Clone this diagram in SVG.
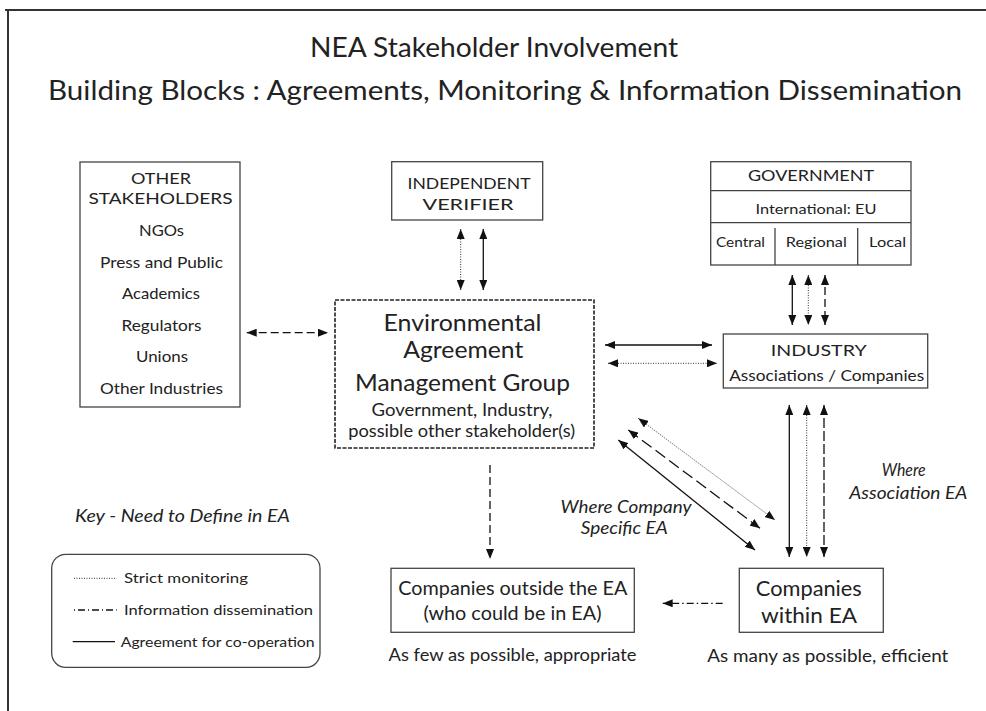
<svg xmlns="http://www.w3.org/2000/svg" width="986" height="711" viewBox="0 0 986 711">
<defs>
<style>
text{font-family:Lato,"Open Sans","Liberation Sans",sans-serif;fill:#222;text-anchor:middle}
.box{fill:#fff;stroke:#444;stroke-width:1.3}
.it{font-style:italic}
.ln{fill:none;stroke:#111;stroke-width:1.3}
.sol{}
.dot{stroke-dasharray:1 1.5;stroke-width:1;stroke:#333}
.dsh{stroke-dasharray:8 4}
.dd{stroke-dasharray:7 3 1.5 3}
</style>
<marker id="ah" viewBox="0 0 10 8" refX="10" refY="4" markerWidth="10" markerHeight="8" markerUnits="userSpaceOnUse" orient="auto-start-reverse">
<path d="M0,0 L10,4 L0,8 Z" fill="#111"/>
</marker>
</defs>
<rect width="986" height="711" fill="#fff"/>
<g id="frame">
<line x1="5" y1="10" x2="986" y2="10" stroke="#333" stroke-width="2"/>
<line x1="8" y1="10" x2="8" y2="711" stroke="#333" stroke-width="2"/>
</g>
<g id="title">
<text x="494" y="57" font-size="26" textLength="368" lengthAdjust="spacingAndGlyphs">NEA Stakeholder Involvement</text>
<text x="505" y="100" font-size="26" textLength="914" lengthAdjust="spacingAndGlyphs">Building Blocks : Agreements, Monitoring &amp; Information Dissemination</text>
</g>
<g id="other-stakeholders">
<rect class="box" x="80" y="162" width="160" height="245"/>
<text x="161" y="183.5" font-size="15" textLength="60" lengthAdjust="spacingAndGlyphs">OTHER</text>
<text x="160.5" y="203.5" font-size="15" textLength="144" lengthAdjust="spacingAndGlyphs">STAKEHOLDERS</text>
<text x="161.5" y="235.5" font-size="15" textLength="45" lengthAdjust="spacingAndGlyphs">NGOs</text>
<text x="161.5" y="267.5" font-size="15" textLength="123" lengthAdjust="spacingAndGlyphs">Press and Public</text>
<text x="161" y="298.5" font-size="15" textLength="78" lengthAdjust="spacingAndGlyphs">Academics</text>
<text x="161.5" y="330.5" font-size="15" textLength="80" lengthAdjust="spacingAndGlyphs">Regulators</text>
<text x="162" y="362" font-size="15" textLength="52" lengthAdjust="spacingAndGlyphs">Unions</text>
<text x="161.5" y="393.5" font-size="15" textLength="123" lengthAdjust="spacingAndGlyphs">Other Industries</text>
</g>
<g id="independent-verifier">
<rect class="box" x="391.7" y="161.7" width="151" height="58.3"/>
<text x="469" y="188.5" font-size="15" textLength="123" lengthAdjust="spacingAndGlyphs">INDEPENDENT</text>
<text x="468" y="209.5" font-size="15" textLength="91" lengthAdjust="spacingAndGlyphs">VERIFIER</text>
</g>
<g id="government">
<rect class="box" x="710.7" y="161.7" width="200.3" height="103.3"/>
<line x1="710.7" y1="190.7" x2="911" y2="190.7" stroke="#444" stroke-width="1.3"/>
<line x1="710.7" y1="222.7" x2="911" y2="222.7" stroke="#444" stroke-width="1.3"/>
<line x1="775" y1="228" x2="775" y2="265" stroke="#444" stroke-width="1.3"/>
<line x1="857.7" y1="228" x2="857.7" y2="265" stroke="#444" stroke-width="1.3"/>
<text x="811" y="181" font-size="15" textLength="126" lengthAdjust="spacingAndGlyphs">GOVERNMENT</text>
<text x="816" y="213.5" font-size="14" textLength="121" lengthAdjust="spacingAndGlyphs">International: EU</text>
<text x="740.5" y="247" font-size="14" textLength="49" lengthAdjust="spacingAndGlyphs">Central</text>
<text x="816.3" y="247" font-size="14" textLength="61" lengthAdjust="spacingAndGlyphs">Regional</text>
<text x="887.6" y="247" font-size="14" textLength="37" lengthAdjust="spacingAndGlyphs">Local</text>
</g>
<g id="eamg">
<rect x="335" y="300" width="259" height="148" fill="#fff" stroke="#222" stroke-width="1.6" stroke-dasharray="4 1.5"/>
<text x="462.5" y="331" font-size="24" textLength="158" lengthAdjust="spacingAndGlyphs">Environmental</text>
<text x="463.3" y="358" font-size="24" textLength="120" lengthAdjust="spacingAndGlyphs">Agreement</text>
<text x="462.5" y="391" font-size="24" textLength="215" lengthAdjust="spacingAndGlyphs">Management Group</text>
<text x="462" y="416" font-size="18" textLength="181" lengthAdjust="spacingAndGlyphs">Government, Industry,</text>
<text x="461.7" y="437" font-size="18" textLength="227" lengthAdjust="spacingAndGlyphs">possible other stakeholder(s)</text>
</g>
<g id="industry">
<rect class="box" x="723.3" y="334" width="204.4" height="54"/>
<text x="818.7" y="355.5" font-size="15" textLength="96" lengthAdjust="spacingAndGlyphs">INDUSTRY</text>
<text x="826.7" y="380.5" font-size="15" textLength="195" lengthAdjust="spacingAndGlyphs">Associations / Companies</text>
</g>
<g id="companies-outside">
<rect class="box" x="391" y="568.3" width="243.3" height="64"/>
<text x="512.8" y="594.5" font-size="19" textLength="229" lengthAdjust="spacingAndGlyphs">Companies outside the EA</text>
<text x="512.5" y="619.5" font-size="19" textLength="178" lengthAdjust="spacingAndGlyphs">(who could be in EA)</text>
<text x="512.5" y="661" font-size="17" textLength="248" lengthAdjust="spacingAndGlyphs">As few as possible, appropriate</text>
</g>
<g id="companies-within">
<rect class="box" x="739.3" y="568.3" width="144" height="64"/>
<text x="808.8" y="596" font-size="22" textLength="106" lengthAdjust="spacingAndGlyphs">Companies</text>
<text x="809" y="622.5" font-size="22" textLength="96" lengthAdjust="spacingAndGlyphs">within EA</text>
<text x="827.8" y="662" font-size="17" textLength="241" lengthAdjust="spacingAndGlyphs">As many as possible, efficient</text>
</g>
<g id="labels">
<text class="it" x="903.7" y="476" font-size="17" textLength="44" lengthAdjust="spacingAndGlyphs">Where</text>
<text class="it" x="908.3" y="499" font-size="17" textLength="118" lengthAdjust="spacingAndGlyphs">Association EA</text>
<text class="it" x="626" y="513" font-size="17" textLength="131" lengthAdjust="spacingAndGlyphs">Where Company</text>
<text class="it" x="624.3" y="534" font-size="17" textLength="87" lengthAdjust="spacingAndGlyphs">Specific EA</text>
</g>
<g id="key">
<text class="it" x="182.5" y="522" font-size="17" textLength="215" lengthAdjust="spacingAndGlyphs">Key - Need to Define in EA</text>
<rect x="51.7" y="554.3" width="268.3" height="113" rx="14" fill="#fff" stroke="#444" stroke-width="1.3"/>
<line class="ln dot" x1="74" y1="578.3" x2="116.7" y2="578.3"/>
<line class="ln dd" x1="74" y1="610" x2="116.7" y2="610" style="stroke-dasharray:1 3 7 3"/>
<line class="ln" x1="72.7" y1="641.7" x2="115" y2="641.7"/>
<text x="124" y="583" font-size="14" text-anchor="start" style="text-anchor:start" textLength="124" lengthAdjust="spacingAndGlyphs">Strict monitoring</text>
<text x="124" y="615" font-size="14" style="text-anchor:start" textLength="189" lengthAdjust="spacingAndGlyphs">Information dissemination</text>
<text x="120.7" y="646.5" font-size="14" style="text-anchor:start" textLength="194" lengthAdjust="spacingAndGlyphs">Agreement for co-operation</text>
</g>
<g id="connectors">
<line class="ln dsh" x1="246.7" y1="332.7" x2="328" y2="332.7" marker-start="url(#ah)" marker-end="url(#ah)"/>
<line class="ln dot" x1="460.7" y1="229" x2="460.7" y2="290" marker-start="url(#ah)" marker-end="url(#ah)"/>
<line class="ln" x1="483.3" y1="229" x2="483.3" y2="290" marker-start="url(#ah)" marker-end="url(#ah)"/>
<line class="ln" x1="605" y1="345" x2="712" y2="345" marker-start="url(#ah)" marker-end="url(#ah)"/>
<line class="ln dot" x1="608" y1="363.3" x2="717" y2="363.3" marker-start="url(#ah)" marker-end="url(#ah)"/>
<line class="ln" x1="792.3" y1="275" x2="792.3" y2="325" marker-start="url(#ah)" marker-end="url(#ah)"/>
<line class="ln dot" x1="808.3" y1="275" x2="808.3" y2="325" marker-start="url(#ah)" marker-end="url(#ah)"/>
<line class="ln dsh" x1="825" y1="275" x2="825" y2="325" marker-start="url(#ah)" marker-end="url(#ah)"/>
<line class="ln" x1="789.3" y1="405" x2="789.3" y2="557" marker-start="url(#ah)" marker-end="url(#ah)"/>
<line class="ln dot" x1="806.7" y1="405" x2="806.7" y2="557" marker-start="url(#ah)" marker-end="url(#ah)"/>
<line class="ln" x1="824" y1="405" x2="824" y2="557" style="stroke-dasharray:10 3" marker-start="url(#ah)" marker-end="url(#ah)"/>
<line class="ln dot" x1="638.3" y1="418.3" x2="775" y2="520" marker-start="url(#ah)" marker-end="url(#ah)"/>
<line class="ln" x1="628.3" y1="430" x2="760" y2="528.3" style="stroke-dasharray:12 5" marker-start="url(#ah)" marker-end="url(#ah)"/>
<line class="ln" x1="618.3" y1="440" x2="755" y2="550" marker-start="url(#ah)" marker-end="url(#ah)"/>
<line class="ln" x1="490" y1="465" x2="490" y2="559" style="stroke-dasharray:8 4" marker-end="url(#ah)"/>
<line class="ln dd" x1="722.7" y1="603.3" x2="662.7" y2="603.3" marker-end="url(#ah)"/>
</g>
</svg>
